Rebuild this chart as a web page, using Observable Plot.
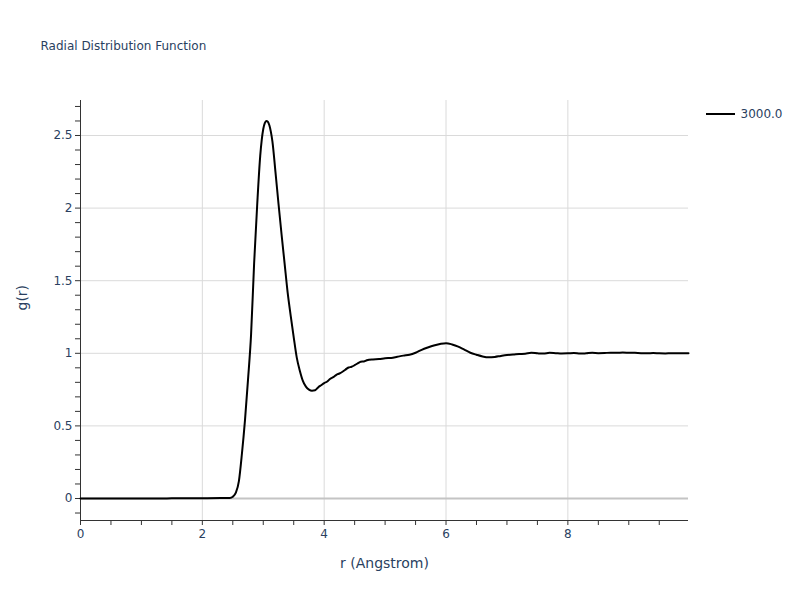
<!DOCTYPE html>
<html><head><meta charset="utf-8">
<script src="https://cdn.jsdelivr.net/npm/d3@7"></script>
<script src="https://cdn.jsdelivr.net/npm/@observablehq/plot@0.6"></script>
<style>
body{margin:0;background:#fff}
svg{font-family:"DejaVu Sans",sans-serif}
</style>
</head><body><div id="chart"></div>
<script>
const titleText = "Radial Distribution Function";
const xTitle = "r (Angstrom)";
const yTitle = "g(r)";
const seriesName = "3000.0";

const r = [0, 0.5, 1.0, 1.5, 2.0, 2.3, 2.45, 2.5, 2.55, 2.6, 2.65, 2.7, 2.75, 2.8, 2.85, 2.9, 2.95, 2.975, 3.0, 3.025, 3.05, 3.075, 3.1, 3.125,
  3.15, 3.2, 3.25, 3.3, 3.35, 3.4, 3.45, 3.5, 3.55, 3.6, 3.65, 3.7, 3.75, 3.8, 3.85, 3.9, 3.95, 4.0, 4.05, 4.1, 4.15, 4.2,
  4.25, 4.3, 4.35, 4.4, 4.45, 4.5, 4.55, 4.6, 4.65, 4.7, 4.8, 4.9, 5.0, 5.1, 5.2, 5.3, 5.4, 5.5, 5.6, 5.7, 5.8, 5.9, 6.0, 6.1, 6.2,
  6.3, 6.4, 6.5, 6.6, 6.7, 6.8, 6.9, 7.0, 7.1, 7.2, 7.3, 7.4, 7.5, 7.6, 7.7, 7.8, 7.9, 8.0, 8.1, 8.2,
  8.3, 8.4, 8.5, 8.6, 8.7, 8.8, 8.9, 9.0, 9.1, 9.2, 9.3, 9.4, 9.5, 9.6, 9.7, 9.8, 9.9, 9.98];
const g = [0, 0, 0, 0.001, 0.002, 0.003, 0.004, 0.012, 0.04, 0.12, 0.31, 0.54, 0.82, 1.13, 1.62, 2.02, 2.36, 2.47, 2.545, 2.585, 2.60, 2.595, 2.57, 2.525,
  2.46, 2.25, 2.03, 1.82, 1.62, 1.42, 1.26, 1.11, 0.97, 0.88, 0.81, 0.77, 0.75, 0.742, 0.745, 0.765, 0.78, 0.795, 0.806, 0.825, 0.836, 0.852,
  0.861, 0.873, 0.888, 0.902, 0.907, 0.918, 0.931, 0.942, 0.944, 0.952, 0.958, 0.960, 0.966, 0.968, 0.976, 0.984, 0.990, 1.004, 1.024, 1.040, 1.054, 1.064, 1.070, 1.061, 1.046,
  1.025, 1.004, 0.990, 0.978, 0.972, 0.975, 0.982, 0.988, 0.991, 0.995, 0.997, 1.003, 1.000, 0.998, 1.003, 1.001, 0.999, 1.000, 1.002, 0.998,
  1.000, 1.003, 1.001, 1.002, 1.004, 1.003, 1.005, 1.004, 1.003, 1.001, 1.000, 1.002, 1.000, 0.999, 1.001, 1.000, 1.000, 1.001];

const xMajorTicks = [0, 2, 4, 6, 8];
const xMinorTicks = [0.5, 1, 1.5, 2.5, 3, 3.5, 4.5, 5, 5.5, 6.5, 7, 7.5, 8.5, 9, 9.5];
const yMajorTicks = [0, 0.5, 1, 1.5, 2, 2.5];
const yMinorTicks = [-0.1, 0.1, 0.2, 0.3, 0.4, 0.6, 0.7, 0.8, 0.9, 1.1, 1.2, 1.3, 1.4, 1.6, 1.7, 1.8, 1.9, 2.1, 2.2, 2.3, 2.4, 2.6, 2.7];

const data = r.map((x, i) => ({r: x, g: g[i]}));
const textColor = "#2a3f5f";
const axisColor = "#333";
const gridColor = "#dadada";
const yLo = -0.1515, yHi = 2.741;

const chart = Plot.plot({
  width: 800, height: 600,
  marginLeft: 80, marginRight: 112, marginTop: 100, marginBottom: 80,
  style: {fontFamily: '"DejaVu Sans", sans-serif', fontSize: "12px", background: "#fff", overflow: "visible"},
  x: {domain: [0, 9.98], label: null},
  y: {domain: [yLo, yHi], label: null},
  marks: [
    Plot.gridX(xMajorTicks.filter(d => d > 0), {stroke: gridColor, strokeOpacity: 1, strokeWidth: 1}),
    Plot.gridY(yMajorTicks.filter(d => d > 0), {stroke: gridColor, strokeOpacity: 1, strokeWidth: 1}),
    Plot.ruleY([0], {stroke: "#c4c4c4", strokeWidth: 2}),
    Plot.axisX(xMinorTicks, {tickSize: 5, tickFormat: () => "", stroke: axisColor, label: null}),
    Plot.axisX(xMajorTicks, {tickSize: 5, tickPadding: 4, stroke: axisColor, fill: textColor, fontSize: 12, label: null}),
    Plot.axisY(yMinorTicks, {tickSize: 5, tickFormat: () => "", stroke: axisColor, label: null}),
    Plot.axisY(yMajorTicks, {tickSize: 5, tickPadding: 3, stroke: axisColor, fill: textColor, fontSize: 12, label: null, tickFormat: d => String(d)}),
    Plot.ruleX([0], {stroke: axisColor, strokeWidth: 1}),
    Plot.ruleY([yLo], {stroke: axisColor, strokeWidth: 1}),
    Plot.line(data, {x: "r", y: "g", stroke: "#000", strokeWidth: 2, curve: "monotone-x"}),
    Plot.text([xTitle], {frameAnchor: "bottom", lineAnchor: "middle", dy: 43, fill: textColor, fontSize: 14, text: d => d}),
    Plot.text([yTitle], {frameAnchor: "left", lineAnchor: "middle", dx: -58, rotate: -90, fill: textColor, fontSize: 14, text: d => d}),
    Plot.text([titleText], {frameAnchor: "top-left", lineAnchor: "middle", dx: -40, dy: -54, textAnchor: "start", fill: textColor, fontSize: 12, text: d => d}),
    Plot.text([seriesName], {frameAnchor: "top-right", lineAnchor: "middle", dx: 52, dy: 14, textAnchor: "start", fill: textColor, fontSize: 12, text: d => d})
  ]
});
// legend swatch
d3.select(chart).append("line")
  .attr("x1", 706).attr("x2", 735).attr("y1", 114).attr("y2", 114)
  .attr("stroke", "#000").attr("stroke-width", 2);
document.getElementById("chart").appendChild(chart);
</script>
</body></html>
